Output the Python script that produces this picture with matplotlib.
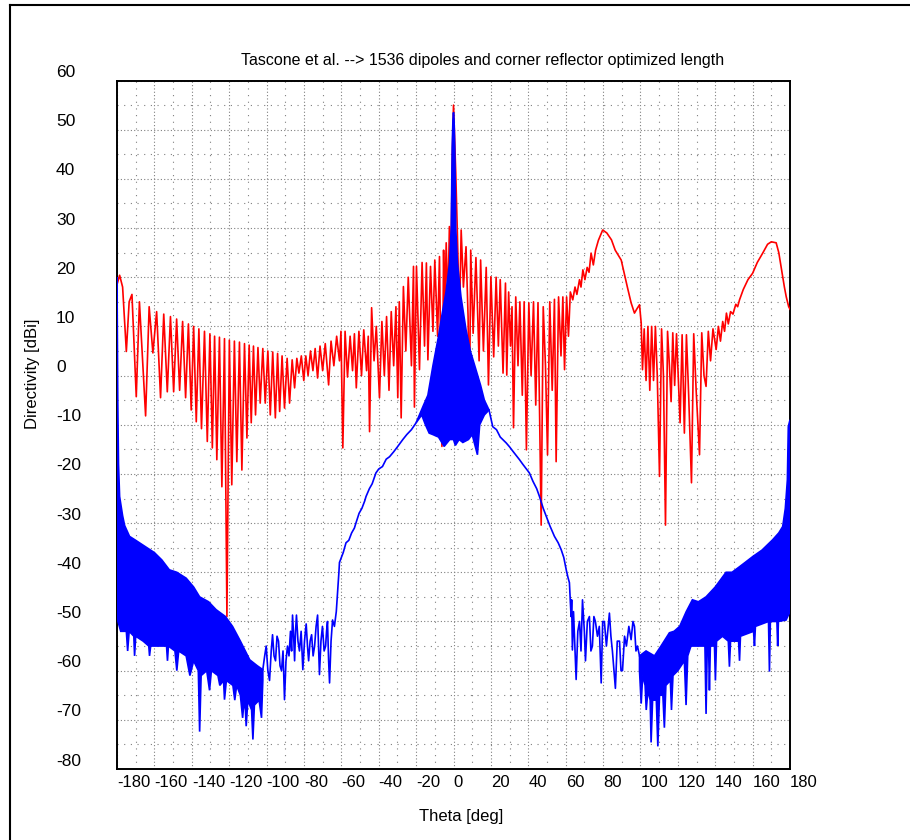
import numpy as np
import matplotlib.pyplot as plt
from matplotlib.lines import Line2D
from matplotlib.transforms import offset_copy, blended_transform_factory

plt.rcParams['font.family'] = ['Liberation Sans Narrow', 'Liberation Sans', 'DejaVu Sans']

# Red trace (theta [deg], directivity [dBi])
red_pts = [
    (-180, 18.5), (-178.6, 20.4), (-177, 18), (-175, 4.9), (-173.5, 15), (-172, 16.5), (-169.7, -4.3),
    (-168, 15), (-164.7, -8.2), (-162.8, 14), (-160.8, 4.6), (-158.8, 13), (-156.7, -4.5), (-155, 12.5),
    (-153.1, -3.3), (-151.4, 12), (-149.7, -3.3), (-148.1, 11.5), (-146.5, -3), (-144.9, 11), (-143.3, -4.5),
    (-141.8, 10.5), (-140.3, -7), (-139, 10), (-137.6, -9.4), (-136.2, 9.5), (-134.8, -10.8), (-133.2, 9),
    (-131.7, -13.4), (-130.3, 8.5), (-129, -14.7), (-127.8, 8), (-126.6, -17.1), (-125.2, 7.8), (-123.9, -22.6),
    (-122.5, 7.5), (-121.2, -49), (-119.9, 7.2), (-118.6, -22.2), (-117.2, 7), (-115.9, -17.5), (-114.5, 6.8),
    (-113.2, -19.2), (-111.8, 6.5), (-110.5, -12.7), (-109.3, 6.2), (-108.2, -9.6), (-107, 6), (-105.9, -8),
    (-104.6, 5.7), (-103.4, -5.6), (-102, 5.5), (-100.7, -5.6), (-99.3, 5), (-98, -8), (-96.7, 4.8),
    (-95.3, -8.6), (-94.1, 4.5), (-93, -7.3), (-91.7, 4), (-90.4, -6.6), (-89, 3.5), (-87.7, -5.6),
    (-86.3, 3.2), (-85, -2.5), (-83.8, 3.5), (-82.7, 0.5), (-81.4, 4), (-80.1, -1),
    (-79, 4), (-77.8, 0), (-76.5, 5), (-75.2, 1), (-74, 5.5), (-72.7, -0.5), (-71.4, 6), (-70, 1),
    (-68.6, 6.5), (-66.8, -1.9), (-65.5, 7), (-64, 2), (-62.5, 8), (-61, 3), (-60.2, 9), (-59.2, -14.7),
    (-58, 9), (-56.7, -0.3), (-55.3, 8), (-54, 1), (-53, 8.5), (-52, -2.5), (-50.6, 9), (-49.2, 0),
    (-48, 9.3), (-46.5, 1), (-45.6, 8), (-44.9, -11.4), (-43.8, 13.8), (-42.5, 3), (-41.3, 10),
    (-39.6, -4.5), (-38.3, 11), (-37, 0), (-35.8, 12), (-34.5, -3), (-33.3, 13), (-32, 2), (-30.8, 14),
    (-29.8, -4.5), (-29, 15), (-28, -8.6), (-26.8, 18.1), (-25.5, 5), (-24.2, 20), (-22.5, 2),
    (-21.4, 22.2), (-20.9, -6.4), (-19.8, 22.2), (-18.2, 1.2), (-16.8, 23), (-15.5, 6), (-14.5, 22.9),
    (-13.7, 3.2), (-12.3, 22.2), (-11, 9), (-10, 23.5), (-8.5, 8), (-7.5, 24.2), (-6.2, -14.4),
    (-5.3, 25.5), (-4.8, 11.3), (-3.9, 27), (-3, 14), (-2.2, 30.3), (-1.5, 20), (-1.1, 31.6),
    (-0.6, 45), (0, 55), (0.6, 48), (1.2, 41.2), (2, 30), (3.2, 11.3), (4.1, 29.6), (5.3, 18),
    (6.7, 26.2), (7.8, 12), (8.5, -11), (9.2, 25.5), (10.5, 8.6), (12, 24), (13.7, 3), (14.5, 23.5),
    (16, 5), (17.5, 22), (18.7, -1.9), (20, 20.1), (21.5, 3.8), (22.8, 20), (24, 6), (25, 19.5),
    (26.5, 0.5), (27.8, 18.8), (28.5, 0.1), (29.5, 17), (30.5, 6), (31.3, 14), (32.1, -10.6), (33.3, 16),
    (34.5, 2), (35.5, 15), (36.8, -4), (37.8, 15), (39, -15.1), (40.3, 14.8), (41.5, 0), (42.8, 15),
    (44, -6), (45.2, 14.8), (46.9, -30.4), (48, 14), (49.2, 2), (50.3, -16.1), (51.5, 15), (52.8, -3),
    (54, 15.5), (54.9, -17.5), (56.2, 16), (57.5, 4), (58.5, 16), (59.4, 1.2), (60.5, 16), (61.5, 8),
    (62.5, 17), (63.8, 15.4), (65, 18), (66, 16.5), (67.4, 19.5), (68.2, 18), (69.2, 21.5), (70.3, 19.5),
    (71.5, 22), (72.5, 21), (73.6, 24.9), (74.8, 22.5), (76, 25.5), (77.5, 27.5), (79.8, 29.6), (82, 29),
    (84.5, 27.6), (86.5, 25.5), (89.7, 23.5), (93, 18), (95, 14.8), (96.8, 12.7), (98, 13.5),
    (99.5, 14.4), (100.4, 10.7), (101.1, 1.2), (102, 9.5), (103, -1), (104, 10), (105, -3), (106, 10),
    (107, -1), (108, 10), (109, 0), (110.2, -20.5), (111.3, 9.5), (112.3, 0), (113.4, -30.4), (114.5, 9),
    (115.5, 2), (116.4, -5.3), (117.3, 8.7), (118.3, -2), (119.3, 8.5), (120.2, 0), (121.2, -9.6),
    (122.3, 8.3), (123.5, -11.7), (124.6, 8.3), (125.8, -4), (127.3, -21.8), (128.5, 8.5), (129.8, -3),
    (131.6, -16.1), (132.8, 8.7), (134, 0), (135.1, -2.2), (136.3, 9), (137.5, 3), (138.8, 9.5),
    (140.5, 5.3), (141.7, 10), (142.8, 7), (144, 11), (145, 9), (146, 12.7), (147, 10.5), (148.2, 13),
    (149.5, 12.5), (151, 14.5), (152, 14), (153, 15.4), (155, 17.5), (157.5, 19.5), (160, 20.8),
    (162.5, 23), (165.4, 24.9), (168, 26.7), (170, 27.2), (172.6, 27), (174, 25), (175.2, 22.2),
    (177, 18), (178, 16), (179.3, 14), (180, 13.5),
]

# Blue trace: dense lobes drawn as bands (upper / lower outline), sparse parts as lines
blue_left_upper = [
    (-180, 20), (-179.6, -5), (-179.2, -18), (-178.6, -24.6), (-177, -28.5), (-175.9, -30.5),
    (-173.3, -32.7), (-170, -33.5), (-168, -34), (-164, -35), (-160, -36), (-156, -37.5), (-152, -39.5),
    (-148, -40), (-143, -41.2), (-139, -43), (-135.8, -45), (-131, -46), (-127, -47.6), (-122, -49),
    (-118.2, -51), (-114, -54), (-109, -57.8), (-105, -59), (-102, -59.8),
]
blue_left_lower = [
    (-180, -45), (-179.5, -50), (-178, -52), (-175, -52), (-174.3, -56), (-173.5, -52), (-171, -53),
    (-170.6, -57), (-170, -53), (-166, -54), (-163, -55), (-162.6, -57), (-162, -55), (-157, -55),
    (-153.5, -55), (-153, -58), (-152.5, -55), (-149, -56), (-148, -60), (-147, -56), (-143, -57),
    (-141, -61), (-139, -58), (-136.5, -60), (-135.8, -72.4), (-135, -61), (-132, -60), (-130.5, -64),
    (-129.5, -60), (-126, -61), (-125, -63), (-123, -62), (-122.5, -65.9), (-121.5, -62), (-118, -63),
    (-117, -66), (-116, -63), (-114, -65), (-112.8, -69.6), (-112, -66), (-111.3, -68), (-110.9, -71.3),
    (-110, -66), (-108, -68), (-107.3, -74), (-106.5, -67), (-104, -66), (-102.7, -69.6), (-102, -62),
]
blue_left_line = [
    (-102, -59.8), (-101, -57), (-100.2, -55), (-99.3, -60), (-98.4, -62), (-97.5, -56), (-96.8, -52.7),
    (-96, -57), (-95.2, -58), (-94.4, -53), (-93.6, -54), (-92.8, -59), (-92, -60), (-91.2, -56),
    (-90.4, -65.9), (-89.6, -58), (-88.8, -55), (-88, -57), (-87.2, -52), (-86.6, -56), (-86.1, -48.7),
    (-85.5, -53), (-85, -58), (-84.5, -52), (-84, -48.7), (-83.2, -54), (-82.4, -56), (-81.5, -52),
    (-80.6, -59.8), (-79.7, -54), (-78.8, -50.5), (-78.1, -55), (-77.5, -58), (-76.7, -54), (-75.9, -52.7),
    (-75.1, -57), (-74.3, -55), (-73.5, -51), (-72.7, -48.7), (-72.2, -55), (-71.7, -60.8), (-70.9, -54),
    (-70.1, -51), (-69.2, -56), (-68.4, -55), (-67.9, -52), (-67.4, -50), (-66.8, -58), (-66.3, -62.5),
    (-65.5, -54), (-64.7, -49.7), (-63.7, -51), (-62.7, -48), (-62, -44), (-61.3, -40), (-61, -38),
    (-60, -37), (-59, -36), (-57.5, -34), (-56, -33.5), (-54.5, -32), (-53, -31), (-52.2, -30),
    (-50.5, -28), (-49, -27), (-47.5, -25.5), (-46.8, -24.6), (-45, -23), (-43.5, -22), (-41.5, -19.8),
    (-40, -19), (-38, -18.5), (-36, -17), (-34.2, -16.5), (-32, -15.5), (-30, -14.5), (-27.1, -13),
    (-25, -12), (-22.5, -11), (-20, -9.6),
]
blue_center_upper = [
    (-20, -9.6), (-16, -6), (-13.7, -4), (-11, 2), (-8, 8), (-6, 12.7), (-4, 17), (-2.1, 22.9),
    (-1.2, 30), (-0.7, 46.5), (-0.3, 52), (0, 53.5), (0.3, 52), (0.7, 46), (1.2, 30), (2.1, 22.9),
    (4, 16), (6.7, 9.3), (9, 5), (12, 1.2), (14.5, -2), (16.5, -5), (19, -7),
]
blue_center_lower = [
    (-20, -9.6), (-17, -8), (-15, -10), (-13, -11.7), (-11, -12), (-8, -12.5), (-5, -14.4), (-2, -13),
    (0, -13), (1, -14.2), (3, -13), (5, -13.6), (8, -13), (10, -12), (12.8, -16.1), (14, -10),
    (16.5, -8), (19, -7),
]
blue_right_line = [
    (19, -7), (21, -10.4), (23, -11), (25, -12.5), (28.2, -13.7), (30, -14.5), (32, -15.5), (35.3, -17.1),
    (37, -18), (39, -19), (40.6, -19.8), (42.5, -21.5), (44.5, -23), (46, -24.6), (48, -27), (49.6, -28.6),
    (51.5, -30.5), (54, -32.7), (56, -34), (57.6, -35.4), (59, -37), (60.3, -39.5), (61.2, -41),
    (62, -42.1), (62.5, -46), (62.9, -49), (63.2, -45.6), (63.6, -55.8), (64.2, -48), (65.6, -61.8),
    (66.5, -52), (67.4, -50), (68.2, -56), (69, -45.6), (70, -52), (70.6, -58), (71.6, -50), (72.7, -49),
    (73.5, -56), (74.3, -55), (75.1, -49), (75.9, -50), (77, -53), (78, -51), (79, -62.5), (79.8, -50),
    (80.7, -50), (81.8, -55), (83.4, -48.3), (84.2, -53), (85, -56), (86.6, -63.6), (87.6, -54),
    (88.8, -54), (89.6, -60), (90.4, -60), (91.5, -53), (92.5, -55), (93.8, -51), (95, -53.7), (96, -50),
    (96.8, -51), (97.6, -56), (98.4, -55), (99.5, -57),
]
blue_right_upper = [
    (99.5, -57), (103, -56), (107.5, -57), (111, -55), (115.5, -52.3), (118, -52), (121, -51),
    (124.5, -48), (127.8, -45.6), (131, -46), (135.1, -45), (140, -43), (145.8, -40), (149, -40),
    (152.9, -38.9), (156, -38), (160.1, -36.8), (165, -35.5), (170.7, -33.4), (174, -32), (176.1, -30.7),
    (177.5, -27), (178.6, -21.2), (179.1, -10.4), (180, -9),
]
blue_right_lower = [
    (99.5, -60), (100.4, -66.7), (101.2, -61), (102.5, -63), (103.1, -68), (104, -64), (105.2, -66),
    (105.7, -74.6), (106.5, -66), (108.5, -66), (109.3, -75.4), (110.2, -65), (112, -65), (112.8, -71.6),
    (113.6, -63), (116, -62), (116.6, -68), (117.4, -61), (120, -60), (123.5, -58), (124.4, -67),
    (125.3, -57), (127, -55), (131, -55), (134.5, -55), (135.1, -68.8), (135.7, -56), (136.5, -56),
    (136.9, -64), (137.4, -55), (139.6, -55), (140.1, -62), (140.7, -54), (143.9, -53), (147, -54),
    (147.6, -59.2), (148.2, -54), (152.5, -54), (153, -58), (153.5, -53), (160.5, -52), (161, -55),
    (161.5, -51), (168.5, -50), (169, -60.2), (169.5, -50), (173, -50), (173.4, -55), (173.8, -50),
    (177.9, -49.7), (180, -48),
]

x_ticks = list(range(-180, 181, 20))
y_ticks = list(range(-80, 61, 10))
title = 'Tascone et al. --> 1536 dipoles and corner reflector optimized length'

RED = '#ff0000'
BLUE = '#0000ff'

fig = plt.figure(figsize=(9.1, 8.4), dpi=100)
ax = fig.add_axes([117 / 910, 1 - 769 / 840, 673 / 910, 688.5 / 840])

red = np.array(red_pts)
ax.plot(red[:, 0], red[:, 1], color=RED, lw=1.2, zorder=3)


def band(upper, lower):
    up = np.array(upper)
    lo = np.array(lower)
    poly = np.vstack([up, lo[::-1]])
    ax.fill(poly[:, 0], poly[:, 1], color=BLUE, lw=1.2, zorder=4)


band(blue_left_upper, blue_left_lower)
band(blue_center_upper, blue_center_lower)
band(blue_right_upper, blue_right_lower)
for seg in (blue_left_line, blue_right_line):
    s = np.array(seg)
    ax.plot(s[:, 0], s[:, 1], color=BLUE, lw=1.2, zorder=4)

ax.set_xlim(-180, 180)
ax.set_ylim(-80, 60)
ax.set_xticks(x_ticks)
ax.set_xticks(range(-170, 180, 20), minor=True)
ax.set_yticks(y_ticks)
ax.set_yticks(range(-75, 60, 10), minor=True)
ax.set_xticklabels([])
ax.set_yticklabels([])
ax.tick_params(which='both', length=0)
ax.grid(which='major', color='#808080', ls=(0, (1, 2)), lw=0.8)
ax.grid(which='minor', color='#808080', ls=(0, (1, 5)), lw=0.8)
ax.set_axisbelow(True)
for sp in ax.spines.values():
    sp.set_linewidth(1.4)

# tick labels, left-aligned like the original
tx = blended_transform_factory(ax.transData, ax.transAxes)
tx = offset_copy(tx, fig, x=0, y=-6, units='dots')
for v in x_ticks:
    ax.text(v, 0, str(v), transform=tx, ha='left', va='top', fontsize=12, clip_on=False)
ty = blended_transform_factory(ax.transAxes, ax.transData)
ty = offset_copy(ty, fig, x=0, y=8, units='dots')
for v in y_ticks:
    ax.text((56 - 117) / 673, v, str(v), transform=ty, ha='left', va='center', fontsize=12.5, clip_on=False)

fig.text(483 / 910, 1 - 60 / 840, title, ha='center', va='center', fontsize=11.5)
fig.text(32 / 910, 1 - 374 / 840, 'Directivity [dBi]', rotation=90, ha='center', va='center', fontsize=12)
fig.text(461 / 910, 1 - 816 / 840, 'Theta [deg]', ha='center', va='center', fontsize=12)

# frame lines at the top and left of the window
fig.add_artist(Line2D([10 / 910, 1], [1 - 5 / 840, 1 - 5 / 840], transform=fig.transFigure, color='black', lw=1.5))
fig.add_artist(Line2D([10 / 910, 10 / 910], [0, 1 - 5 / 840], transform=fig.transFigure, color='black', lw=1.5))

fig.savefig('out.png', dpi=100)
